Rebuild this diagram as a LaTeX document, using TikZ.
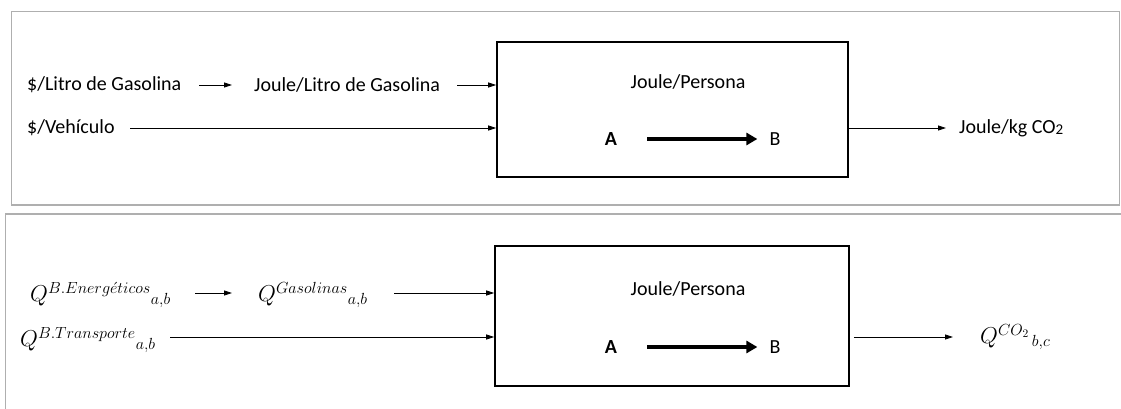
\documentclass[tikz,border=0pt]{standalone}
\usepackage{fix-cm}
\usepackage{fontspec}
\setmainfont{Carlito}
\usetikzlibrary{arrows.meta}
\definecolor{panelgray}{RGB}{175,175,175}
\tikzset{
  panel/.style={draw=panelgray, line width=1.6pt},
  lbl/.style={anchor=west, inner sep=0pt, font=\fontsize{20}{24}\selectfont},
  mlbl/.style={anchor=west, inner sep=0pt, font=\fontsize{23}{27}\selectfont},
  procbox/.style={draw=black, line width=1.6pt, inner sep=0pt},
  conn/.style={line width=0.8pt, -{Triangle[length=8pt,width=5pt]}},
  heavyarrow/.style={line width=4pt, -{Triangle[length=11pt,width=12pt]}},
  boxtxt/.style={inner sep=0pt, font=\fontsize{20}{24}\selectfont},
}
\begin{document}
\begin{tikzpicture}[x=1pt,y=-1pt]
\useasboundingbox (0,0) rectangle (1121,409);
% panels
\draw[panel] (11.5,11.5) rectangle (1119.5,205);
\draw[panel] (1125,214) -- (5.5,214) -- (5.5,415);

% ---------- top ----------
\node[procbox, minimum width=351pt, minimum height=135pt] (box1) at (672.5,109.5) {};
\node[lbl] (lit) at (27,85) {\$/Litro de Gasolina};
\node[lbl] (jlit) at (254,85) {Joule/Litro de Gasolina};
\node[lbl] (veh) at (27,128) {\$/Vehículo};
\node[boxtxt] (jp1) at (688,82) {Joule/Persona};
\node[boxtxt, font=\fontsize{20}{24}\selectfont\bfseries] (a1) at (611,139) {A};
\node[boxtxt] (b1) at (775,139) {B};
\node[lbl] (out1) at (959,128) {Joule/kg CO\raisebox{-0.15ex}{\fontsize{15}{17}\selectfont 2}};
\draw[conn] ([xshift=172pt]lit.west) -- ([xshift=-22pt]jlit.west);
\draw[conn] ([xshift=203pt]jlit.west) -- (box1.west |- jlit.west);
\draw[conn] ([xshift=103pt]veh.west) -- (box1.west |- veh.west);
\draw[heavyarrow] ([xshift=30pt]a1.east) -- ([xshift=-12pt]b1.west);
\draw[conn] (box1.east |- out1.west) -- ([xshift=-13pt]out1.west);

% ---------- bottom ----------
\node[procbox, minimum width=354pt, minimum height=140pt] (box2) at (672,316) {};
\node[mlbl] (ene) at (30,295) {$Q^{B.Energ\acute{e}ticos}{}_{a,b}$};
\node[mlbl] (gas) at (258,295) {$Q^{Gasolinas}{}_{a,b}$};
\node[mlbl] (tra) at (20,340) {$Q^{B.Transporte}{}_{a,b}$};
\node[boxtxt] (jp2) at (688,289) {Joule/Persona};
\node[boxtxt, font=\fontsize{20}{24}\selectfont\bfseries] (a2) at (611,347) {A};
\node[boxtxt] (b2) at (775,347) {B};
\node[mlbl] (out2) at (980,337) {$Q^{CO_2}{}_{\,b,c}$};
\coordinate (e1s) at (195,293);
\coordinate (t1s) at (170,337);
\draw[conn] ([xshift=165pt]ene.west |- e1s) -- ([xshift=-26pt]gas.west |- e1s);
\draw[conn] ([xshift=136pt]gas.west |- e1s) -- (box2.west |- e1s);
\draw[conn] ([xshift=150pt]tra.west |- t1s) -- (box2.west |- t1s);
\draw[heavyarrow] ([xshift=30pt]a2.east) -- ([xshift=-12pt]b2.west);
\draw[conn] ([xshift=4pt]box2.east |- t1s) -- ([xshift=-27pt]out2.west |- t1s);
\end{tikzpicture}
\end{document}
